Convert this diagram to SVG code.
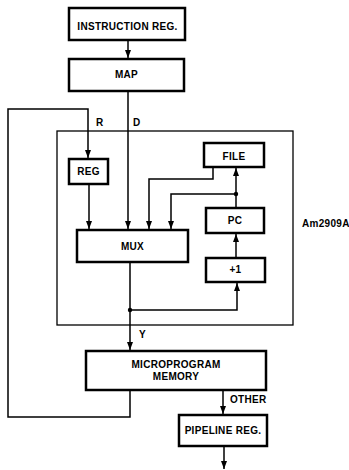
<svg xmlns="http://www.w3.org/2000/svg" width="349" height="470" viewBox="0 0 349 470">
<style>
.box{fill:#fff;stroke:#000;stroke-width:2.5}
.chip{fill:none;stroke:#000;stroke-width:1.3}
.w{fill:none;stroke:#000;stroke-width:1.5}
text{font-family:"Liberation Sans",Arial,sans-serif;font-weight:bold;font-size:10px;letter-spacing:0.3px;fill:#000}
.c{text-anchor:middle}
</style>
<defs>
<marker id="a" markerUnits="userSpaceOnUse" markerWidth="8" markerHeight="6" refX="8" refY="3" orient="auto">
<path d="M0,0 L8,3 L0,6 z" fill="#000"/>
</marker>
</defs>
<rect class="chip" x="57" y="131" width="236" height="194"/>
<text x="302" y="227">Am2909A</text>
<g id="connectors">
<path class="w" d="M128,40 V58" marker-end="url(#a)"/>
<path class="w" d="M128,91 V229" marker-end="url(#a)"/>
<path class="w" d="M130,390 V417 H8 V109 H88 V158" marker-end="url(#a)"/>
<path class="w" d="M89,184 V229" marker-end="url(#a)"/>
<path class="w" d="M213,167 V179 H149 V229" marker-end="url(#a)"/>
<path class="w" d="M236,208 V168" marker-end="url(#a)"/>
<path class="w" d="M236,194 H171 V229" marker-end="url(#a)"/>
<path class="w" d="M236,258 V234" marker-end="url(#a)"/>
<path class="w" d="M130,262 V350" marker-end="url(#a)"/>
<path class="w" d="M130,310 H237 V283" marker-end="url(#a)"/>
<path class="w" d="M223,390 V414" marker-end="url(#a)"/>
<path class="w" d="M224,446 V469" marker-end="url(#a)"/>
<circle cx="236" cy="194" r="2.2"/>
<circle cx="130" cy="310" r="2.2"/>
<text x="96" y="126">R</text>
<text x="133" y="126">D</text>
<text x="139" y="338">Y</text>
<text x="230" y="403">OTHER</text>
</g>
<g id="ir"><rect class="box" x="69" y="8" width="116" height="32"/><text class="c" x="127.5" y="29.5">INSTRUCTION REG.</text></g>
<g id="map"><rect class="box" x="69" y="59" width="115" height="32"/><text class="c" x="126.5" y="78">MAP</text></g>
<g id="reg"><rect class="box" x="69" y="159" width="39" height="25"/><text class="c" x="88.5" y="175">REG</text></g>
<g id="file"><rect class="box" x="204" y="143" width="60" height="24"/><text class="c" x="234" y="160">FILE</text></g>
<g id="pc"><rect class="box" x="206" y="208" width="58" height="25"/><text class="c" x="235" y="223.5">PC</text></g>
<g id="inc"><rect class="box" x="206" y="258" width="59" height="24"/><text class="c" x="235.5" y="273">+1</text></g>
<g id="mux"><rect class="box" x="77" y="230" width="111" height="32"/><text class="c" x="132.5" y="249.5">MUX</text></g>
<g id="mm"><rect class="box" x="86" y="351" width="180" height="39"/><text class="c" x="176" y="367.5">MICROPROGRAM</text><text class="c" x="176" y="380">MEMORY</text></g>
<g id="pipe"><rect class="box" x="179" y="415" width="88" height="31"/><text class="c" x="223" y="434">PIPELINE REG.</text></g>
</svg>
